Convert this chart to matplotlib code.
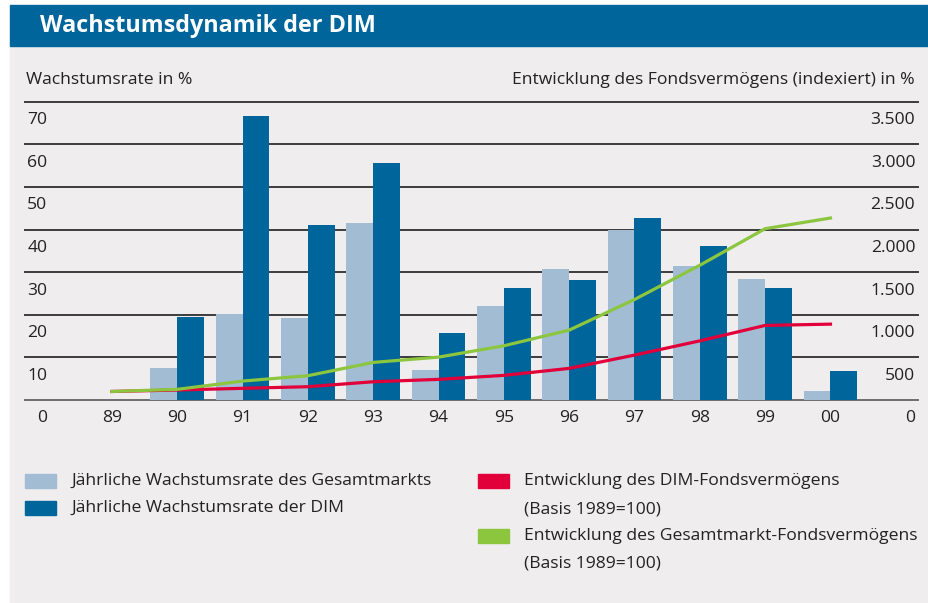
import numpy as np
import matplotlib
matplotlib.use('Agg')
import matplotlib.pyplot as plt
from matplotlib.patches import Rectangle

plt.rcParams['font.family'] = ['Open Sans', 'DejaVu Sans']

# Daten
jahre = ['89', '90', '91', '92', '93', '94', '95', '96', '97', '98', '99', '00']
rate_gesamtmarkt = [np.nan, 7.6, 20.1, 19.2, 41.5, 7.0, 22.0, 30.7, 40.0, 31.4, 28.3, 2.1]
rate_dim = [np.nan, 19.4, 66.7, 41.0, 55.7, 15.7, 26.2, 28.1, 42.6, 36.1, 26.2, 6.8]
verm_dim = [100, 117, 137, 156, 214, 242, 289, 371, 527, 694, 875, 890]
verm_gesamt = [100, 125, 222, 285, 441, 503, 636, 820, 1179, 1581, 2010, 2135]
links_ticks = [0, 10, 20, 30, 40, 50, 60, 70]
rechts_ticks = ['0', '500', '1.000', '1.500', '2.000', '2.500', '3.000', '3.500']

blau = '#00659b'
hellblau = '#a2bcd4'
rot = '#e2003a'
gruen = '#8cc63f'
hintergrund = '#efedee'
linie = '#3c3c3c'
textfarbe = '#222222'

W, H = 929, 603
fig = plt.figure(figsize=(W / 100, H / 100), dpi=100)
fig.patch.set_facecolor('white')

# grauer Kasten + Titelbalken (hinter den Achsen)
fig.patches.append(Rectangle((10 / W, 0), 1 - 10 / W, (H - 46) / H,
                             transform=fig.transFigure, color=hintergrund, zorder=-10))
fig.patches.append(Rectangle((10 / W, (H - 46) / H), 1 - 10 / W, 41 / H,
                             transform=fig.transFigure, color=blau, zorder=-10))
fig.text(40 / W, (H - 26) / H, 'Wachstumsdynamik der DIM', color='white',
         fontsize=16.8, fontweight='bold', va='center', ha='left')

ax = fig.add_axes([25 / W, (H - 400) / H, 893 / W, 298.3 / H])
ax.set_facecolor('none')
x = np.arange(len(jahre))
b = 0.41
ax.bar(x - b / 2, rate_gesamtmarkt, width=b, color=hellblau, zorder=3)
ax.bar(x + b / 2, rate_dim, width=b, color=blau, zorder=3)
ax.set_xlim(-1.33, 12.34)
ax.set_ylim(0, 70)
for v in links_ticks:
    ax.axhline(v, color=linie if v > 0 else '#6e6e6e', lw=1.4, zorder=2, clip_on=False)
ax.axis('off')

ax2 = ax.twinx()
ax2.set_ylim(0, 3500)
ax2.plot(x, verm_dim, color=rot, lw=2.3, zorder=4)
ax2.plot(x, verm_gesamt, color=gruen, lw=2.3, zorder=4)
ax2.axis('off')

fs = 12.6
for v in links_ticks:
    ax.annotate(str(v), xy=(0, v), xycoords=('axes fraction', 'data'),
                xytext=(16, -7.5), textcoords='offset points', ha='right', va='top',
                fontsize=fs, color=textfarbe)
for v, lab in zip(links_ticks, rechts_ticks):
    ax.annotate(lab, xy=(1, v), xycoords=('axes fraction', 'data'),
                xytext=(-2, -7.5), textcoords='offset points', ha='right', va='top',
                fontsize=fs, color=textfarbe)
for i, j in enumerate(jahre):
    ax.annotate(j, xy=(i, 0), xycoords='data', xytext=(0, -7.5),
                textcoords='offset points', ha='center', va='top',
                fontsize=fs, color=textfarbe)

fig.text(26 / W, (H - 80) / H, 'Wachstumsrate in %', fontsize=fs, va='center', ha='left', color=textfarbe)
fig.text(915 / W, (H - 80) / H, 'Entwicklung des Fondsvermögens (indexiert) in %', fontsize=fs,
         va='center', ha='right', color=textfarbe)

# Legende
eintraege = [
    (25, 481, hellblau, ['Jährliche Wachstumsrate des Gesamtmarkts']),
    (25, 508, blau, ['Jährliche Wachstumsrate der DIM']),
    (478, 481, rot, ['Entwicklung des DIM-Fondsvermögens', '(Basis 1989=100)']),
    (478, 536, gruen, ['Entwicklung des Gesamtmarkt-Fondsvermögens', '(Basis 1989=100)']),
]
for lx, ly, c, zeilen in eintraege:
    fig.patches.append(Rectangle((lx / W, (H - ly - 7) / H), 31 / W, 14 / H,
                                 transform=fig.transFigure, color=c, zorder=1))
    for k, t in enumerate(zeilen):
        fig.text((lx + 46) / W, (H - ly - 28 * k) / H, t, fontsize=fs, va='center',
                 ha='left', color=textfarbe)

fig.savefig('out.png', dpi=100, facecolor=fig.get_facecolor())
